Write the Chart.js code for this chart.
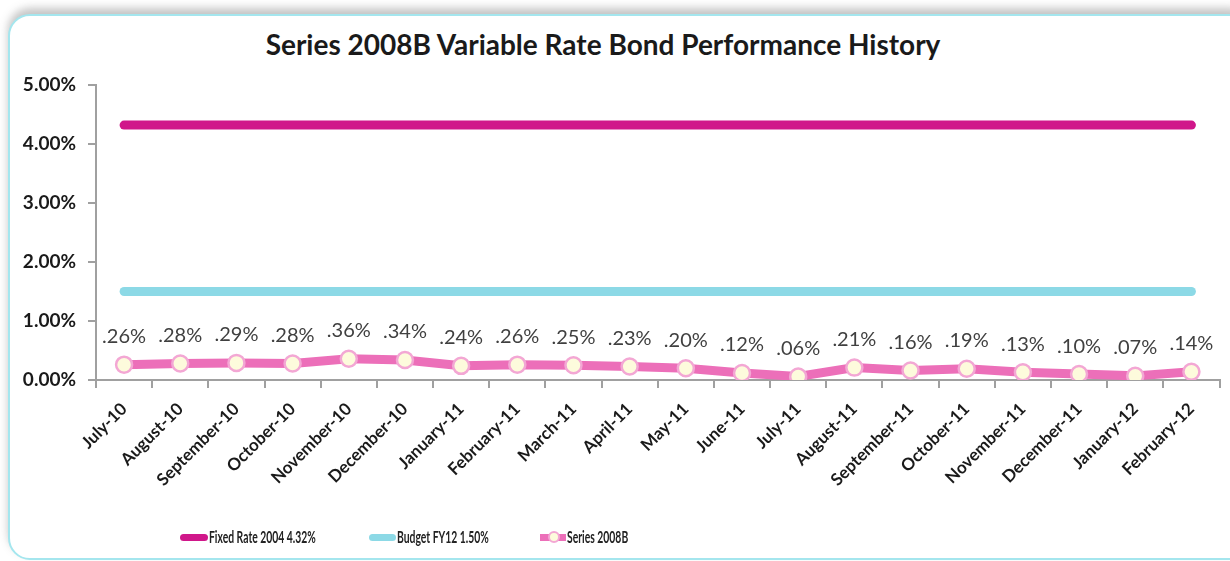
<!DOCTYPE html>
<html>
<head>
<meta charset="utf-8">
<script src="https://cdn.jsdelivr.net/npm/chart.js@4.4.1/dist/chart.umd.min.js"></script>
<style>
    html, body { margin: 0; padding: 0; background: #fff; }
    body { width: 1230px; height: 561px; position: relative; overflow: hidden; font-family: Lato, "Open Sans", sans-serif; }
    #frame {
        position: absolute; left: 8px; top: 14px; width: 1240px; height: 542px;
        border: 2px solid #a4e6ee; border-radius: 22px;
        box-shadow: 0 -6px 8px rgba(90, 90, 90, 0.35);
        background: #fff;
    }
    #title {
        position: absolute; left: 0; top: 27px; width: 1206px; text-align: center;
        font: bold 28px Lato, sans-serif; color: #1a1a1a;
    }
    #chartBox { position: absolute; left: 0; top: 0; width: 1230px; height: 561px; }
    #legend { position: absolute; top: 527px; left: 0; font: bold 17px Lato, sans-serif; color: #222; }
    .item { position: absolute; top: 0; white-space: nowrap; line-height: 20px; }
    .swatch { position: absolute; top: 7px; height: 7px; border-radius: 4px; }
    .dot { position: absolute; top: 4px; width: 12px; height: 12px; border-radius: 50%; background: #fdfbdc; border: 2px solid #f3a7d4; box-sizing: border-box; }
    .txt { position: absolute; top: 0; display: inline-block; transform: scaleX(0.61); transform-origin: left center; }
</style>
</head>
<body>
<div id="frame"></div>
<div id="title">Series 2008B Variable Rate Bond Performance History</div>
<div id="chartBox"><canvas id="bondChart" width="1230" height="561"></canvas></div>
<div id="legend">
    <div class="item" style="left:180px"><span class="swatch" style="left:0;width:28px;background:#d0178a"></span><span class="txt" style="left:29px">Fixed Rate 2004 4.32%</span></div>
    <div class="item" style="left:369px"><span class="swatch" style="left:0;width:27px;background:#8cd9e6"></span><span class="txt" style="left:28px">Budget FY12 1.50%</span></div>
    <div class="item" style="left:540px"><span class="swatch" style="left:0;width:26px;background:#ec6fb9;border-radius:0"></span><span class="dot" style="left:8px"></span><span class="txt" style="left:27px">Series 2008B</span></div>
</div>
<script>
// months on the x axis
const months = ['July-10', 'August-10', 'September-10', 'October-10', 'November-10', 'December-10',
    'January-11', 'February-11', 'March-11', 'April-11', 'May-11', 'June-11', 'July-11', 'August-11',
    'September-11', 'October-11', 'November-11', 'December-11', 'January-12', 'February-12'];

// rates in percent
const fixedRate2004 = [4.32, 4.32, 4.32, 4.32, 4.32, 4.32, 4.32, 4.32, 4.32, 4.32,
    4.32, 4.32, 4.32, 4.32, 4.32, 4.32, 4.32, 4.32, 4.32, 4.32];
const budgetFY12 = [1.50, 1.50, 1.50, 1.50, 1.50, 1.50, 1.50, 1.50, 1.50, 1.50,
    1.50, 1.50, 1.50, 1.50, 1.50, 1.50, 1.50, 1.50, 1.50, 1.50];
const series2008B = [0.26, 0.28, 0.29, 0.28, 0.36, 0.34, 0.24, 0.26, 0.25, 0.23,
    0.20, 0.12, 0.06, 0.21, 0.16, 0.19, 0.13, 0.10, 0.07, 0.14];

const yTicks = [0, 1, 2, 3, 4, 5];

// small plugin for the value labels above the Series 2008B points
const pointLabels = {
    id: 'pointLabels',
    afterDatasetsDraw(chart) {
        const ctx = chart.ctx;
        const meta = chart.getDatasetMeta(2);
        ctx.save();
        ctx.font = '20px Lato, sans-serif';
        ctx.fillStyle = '#404040';
        ctx.textAlign = 'center';
        ctx.textBaseline = 'middle';
        meta.data.forEach((pt, i) => {
            const txt = series2008B[i].toFixed(2).replace(/^0/, '') + '%';
            ctx.fillText(txt, pt.x, pt.y - 28);
        });
        ctx.restore();
    }
};

const axisGray = '#a0a0a0';

const config = {
    type: 'line',
    data: {
        labels: months,
        datasets: [
            {
                label: 'Fixed Rate 2004 4.32%',
                data: fixedRate2004,
                borderColor: '#d0178a',
                borderWidth: 9,
                borderCapStyle: 'round',
                pointRadius: 0,
                fill: false
            },
            {
                label: 'Budget FY12 1.50%',
                data: budgetFY12,
                borderColor: '#8cd9e6',
                borderWidth: 9,
                borderCapStyle: 'round',
                pointRadius: 0,
                fill: false
            },
            {
                label: 'Series 2008B',
                data: series2008B,
                borderColor: '#ec6fb9',
                borderWidth: 9,
                pointRadius: 8,
                pointBackgroundColor: '#fdfbdc',
                pointBorderColor: '#f3a7d4',
                pointBorderWidth: 2.5,
                fill: false
            }
        ]
    },
    options: {
        responsive: false,
        animation: false,
        layout: { padding: { top: 85, right: 6, left: 0, bottom: 0 } },
        plugins: {
            legend: { display: false },
            tooltip: { enabled: false }
        },
        scales: {
            x: {
                offset: true,
                grid: {
                    offset: true,
                    drawOnChartArea: false,
                    drawTicks: true,
                    tickLength: 8,
                    color: axisGray,
                    lineWidth: 2
                },
                border: { color: axisGray, width: 2 },
                ticks: {
                    minRotation: 45,
                    maxRotation: 45,
                    autoSkip: false,
                    padding: 11,
                    color: '#1a1a1a',
                    font: { family: 'Lato', size: 17, weight: 'bold' }
                },
                afterFit(scale) {
                    scale.height = 181;
                    scale.paddingLeft = 0;
                    scale.paddingRight = 0;
                }
            },
            y: {
                min: 0,
                max: 5,
                afterBuildTicks(scale) {
                    scale.ticks = yTicks.map(v => ({ value: v }));
                },
                grid: {
                    drawOnChartArea: false,
                    tickLength: 8,
                    color: axisGray,
                    lineWidth: 2
                },
                border: { color: axisGray, width: 2 },
                ticks: {
                    padding: 12,
                    color: '#1a1a1a',
                    font: { family: 'Lato', size: 19, weight: 'bold' },
                    callback: v => v.toFixed(2) + '%'
                },
                afterFit(scale) {
                    scale.width = 96;
                    scale.paddingTop = 0;
                    scale.paddingBottom = 0;
                }
            }
        }
    },
    plugins: [pointLabels]
};

new Chart(document.getElementById('bondChart').getContext('2d'), config);
</script>
</body>
</html>
